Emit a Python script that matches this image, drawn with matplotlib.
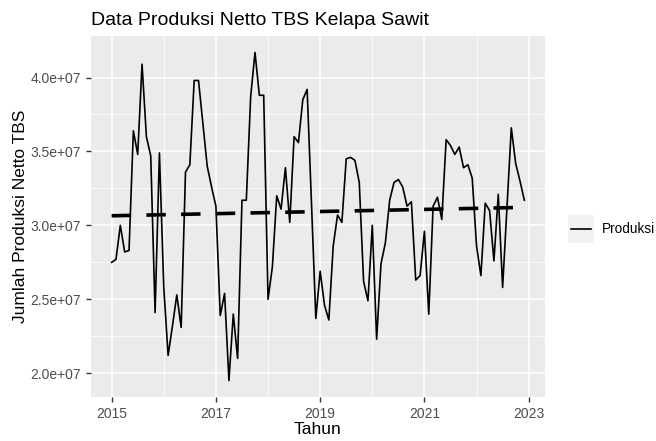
import numpy as np
import matplotlib
matplotlib.use('Agg')
import matplotlib.pyplot as plt
from matplotlib.patches import Rectangle
from matplotlib.lines import Line2D

plt.rcParams['font.family'] = ['Liberation Sans', 'DejaVu Sans']
plt.rcParams['lines.scale_dashes'] = False

# produksi bulanan (juta), Jan 2015 - Des 2022
y2015 = [27.5, 27.7, 30.0, 28.2, 28.3, 36.4, 34.8, 40.9, 36.0, 34.7, 24.1, 34.9]
y2016 = [25.8, 21.2, 23.2, 25.3, 23.1, 33.6, 34.1, 39.8, 39.8, 36.9, 34.0, 32.6]
y2017 = [31.3, 23.9, 25.4, 19.5, 24.0, 21.0, 31.7, 31.7, 38.7, 41.7, 38.8, 38.8]
y2018 = [25.0, 27.2, 32.0, 31.1, 33.9, 30.2, 36.0, 35.6, 38.5, 39.2, 31.5, 23.7]
y2019 = [26.9, 24.6, 23.6, 28.6, 30.7, 30.2, 34.5, 34.6, 34.4, 32.9, 26.2, 24.9]
y2020 = [30.0, 22.3, 27.4, 28.8, 31.7, 32.9, 33.1, 32.6, 31.3, 31.6, 26.3, 26.6]
y2021 = [29.6, 24.0, 31.3, 31.9, 30.4, 35.8, 35.4, 34.8, 35.3, 33.9, 34.1, 33.2]
y2022 = [28.6, 26.6, 31.5, 31.0, 27.6, 32.1, 25.8, 31.2, 36.6, 34.2, 33.0, 31.7]

produksi = np.array(y2015 + y2016 + y2017 + y2018 + y2019 + y2020 + y2021 + y2022) * 1e6
tahun = 2015 + np.arange(len(produksi)) / 12

# garis tren (regresi linear)
b, a = np.polyfit(tahun, produksi, 1)
tren = a + b * tahun

fig = plt.figure(figsize=(6.56, 4.41), dpi=100)
ax = fig.add_axes([91/656, 1-397/441, (545-91)/656, (397-36)/441])
ax.set_facecolor('#EBEBEB')
for s in ax.spines.values():
    s.set_visible(False)

ax.plot(tahun, produksi, color='black', lw=1.2)
ax.plot(tahun, tren, color='black', lw=2.6, dashes=(14, 11))

ax.set_xlim(2014.604, 2023.313)
ax.set_ylim(18.39e6, 42.81e6)
ax.set_xticks([2015, 2017, 2019, 2021, 2023])
ax.set_xticks([2016, 2018, 2020, 2022], minor=True)
yt = [2.0e7, 2.5e7, 3.0e7, 3.5e7, 4.0e7]
ax.set_yticks(yt)
ax.set_yticklabels(['%.1e' % v for v in yt])
ax.set_yticks([2.25e7, 2.75e7, 3.25e7, 3.75e7], minor=True)
ax.grid(which='major', color='white', lw=1.1)
ax.grid(which='minor', color='white', lw=0.55)
ax.set_axisbelow(True)
ax.tick_params(which='major', length=3.5, width=1, color='#333333', labelcolor='#4D4D4D', labelsize=10)
ax.tick_params(which='minor', length=0)

ax.set_xlabel('Tahun', fontsize=12.5, labelpad=1)
ax.set_ylabel('Jumlah Produksi Netto TBS', fontsize=12.5, labelpad=2)
ax.set_title('Data Produksi Netto TBS Kelapa Sawit', fontsize=14, loc='left', pad=8)

# legenda
fig.patches.append(Rectangle((568/656, 1-243/441), 26/656, 28/441,
                             transform=fig.transFigure, facecolor='#F2F2F2', edgecolor='none'))
fig.add_artist(Line2D([571/656, 591/656], [1-229/441, 1-229/441], transform=fig.transFigure,
                      color='black', lw=1.2))
fig.text(602/656, 1-229/441, 'Produksi', fontsize=9.8, va='center', ha='left')

fig.savefig('out.png', dpi=100)
